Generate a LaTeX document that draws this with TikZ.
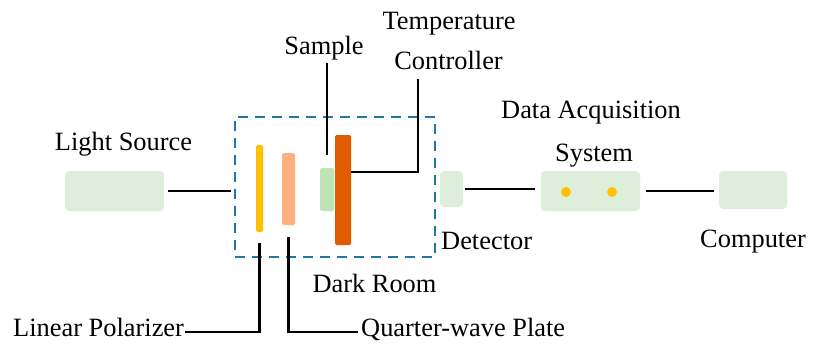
\documentclass[tikz,border=0pt]{standalone}
\usepackage{fontspec}
\setmainfont{Liberation Serif}
\newfontfamily\labelfont{Liberation Serif}
\definecolor{boxgreen}{RGB}{221,239,218}
\definecolor{samplegreen}{RGB}{190,227,180}
\definecolor{polyellow}{RGB}{255,192,0}
\definecolor{qwpsalmon}{RGB}{255,176,128}
\definecolor{ctlorange}{RGB}{224,90,0}
\definecolor{roomblue}{RGB}{31,119,166}
\tikzset{
  box/.style={fill=boxgreen, rounded corners=4pt, inner sep=0pt},
  plate/.style={rounded corners=1.5pt, inner sep=0pt},
  dot/.style={circle, fill=polyellow, minimum size=10pt, inner sep=0pt},
  lbl/.style={font=\labelfont\fontsize{26.4pt}{30pt}\selectfont, inner sep=0pt, anchor=base},
  wire/.style={line width=2.7pt}
}

\begin{document}
\begin{tikzpicture}[x=1pt, y=-1pt]
	\useasboundingbox (0,0) rectangle (813,345);
	% dark room
	\node[draw=roomblue, line width=2.7pt, dash pattern=on 10pt off 7pt,
		minimum width=200pt, minimum height=140pt, inner sep=0pt] (room) at (335,187) {};
	% boxes outside
	\node[box, minimum width=99pt, minimum height=40pt] (src) at (114.5,191) {};
	\node[box, minimum width=23pt, minimum height=36pt] (det) at (451.5,189) {};
	\node[box, minimum width=99pt, minimum height=40pt] (daq) at (590.5,191) {};
	\node[box, minimum width=68pt, minimum height=38pt] (comp) at (753,190) {};
	\node[dot] (dot1) at (566,192) {};
	\node[dot] (dot2) at (612,192) {};
	% optics inside the room
	\node[plate, fill=polyellow, minimum width=7pt, minimum height=87pt] (pol) at (259.5,188.5) {};
	\node[plate, fill=qwpsalmon, minimum width=13pt, minimum height=72pt] (qwp) at (288.5,189) {};
	\node[plate, fill=samplegreen, minimum width=14pt, minimum height=43pt] (smp) at (327,189.5) {};
	\node[plate, fill=ctlorange, minimum width=16pt, minimum height=110pt] (ctl) at (343,190) {};
	% labels
	\node[lbl] (srclbl) at (123.5,150) {Light Source};
	\node[lbl] (smplbl) at (324,55) {Sample};
	\node[lbl] (ctllbl1) at (449,30) {Temperature};
	\node[lbl] (ctllbl2) at (448.5,70) {Controller};
	\node[lbl] (daqlbl1) at (591,118) {Data Acquisition};
	\node[lbl] (daqlbl2) at (594,161) {System};
	\node[lbl, anchor=base west] (detlbl) at (441,249) {Detector};
	\node[lbl] (complbl) at (753,247) {Computer};
	\node[lbl] (roomlbl) at (374.5,292) {Dark Room};
	\node[lbl, anchor=base west] (pollbl) at (13,336) {Linear Polarizer};
	\node[lbl, anchor=base west] (qwplbl) at (361,336) {Quarter-wave Plate};
	% connections
	\draw[wire] ([xshift=4pt]src.east) -- ([xshift=-3pt]room.west |- src.east);
	\draw[wire] ([xshift=2pt]det.east) -- ([xshift=-6pt]daq.west |- det.east);
	\draw[wire] ([xshift=6pt]daq.east) -- ([xshift=-5pt]comp.west |- daq.east);
	% leaders
	\draw[wire] ([yshift=-8pt]smplbl.base -| smp.north) -- ([yshift=13pt]smp.north);
	\draw[wire] ([yshift=18pt]ctl.east) -| ([xshift=-30.5pt,yshift=-9pt]ctllbl2.base);
	\draw[wire] ([yshift=-11pt]pol.south) |- ([xshift=1pt,yshift=4pt]pollbl.base east);
	\draw[wire] ([yshift=-12pt]qwp.south) |- ([xshift=-3pt,yshift=4pt]qwplbl.base west);
\end{tikzpicture}
\end{document}
